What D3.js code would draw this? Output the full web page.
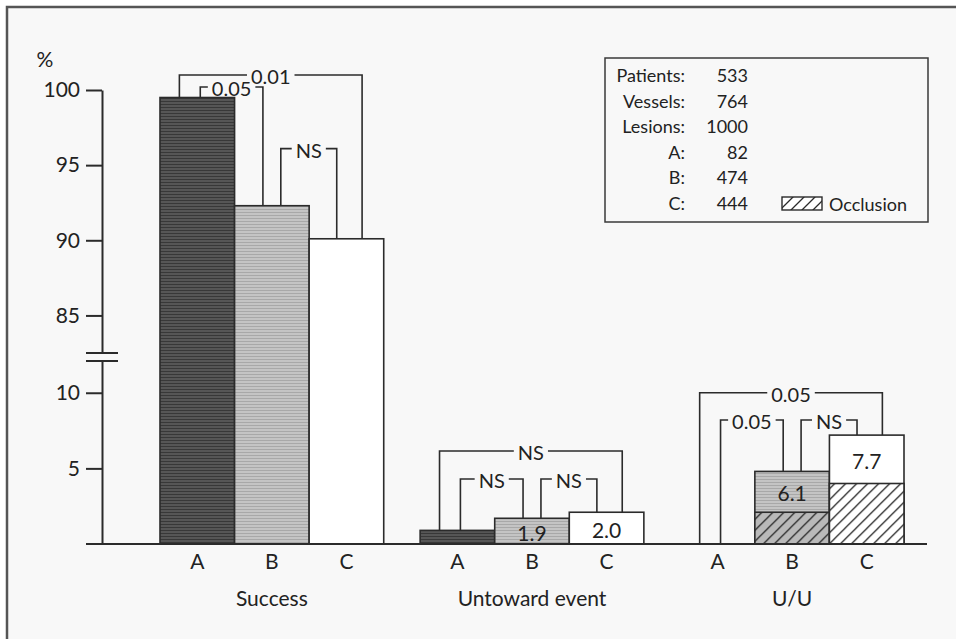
<!DOCTYPE html>
<html lang="en">
<head>
<meta charset="utf-8">
<title>Success, untoward event and U/U by lesion type</title>
<style type="text/css">
body { margin: 0; background: #fff; }
text { font-family: Lato, "Open Sans", sans-serif; fill: #222; }
.tick text { font-size: 21px; }
.ink { stroke: #2b2b2b; fill: none; }
</style>
<script type="text/javascript" src="https://cdn.jsdelivr.net/npm/d3@7"></script>
</head>
<body>
<script type="text/javascript">
var w = 956;
var h = 639;

// data
var groups = ["Success", "Untoward event", "U/U"];
var cats = ["A", "B", "C"];
var success = [99.5, 92.3, 90.1];
var untoward = [0.9, 1.7, 2.1];
var untowardText = ["", "1.9", "2.0"];
var uu = [0, 4.8, 7.2];
var uuOcclusion = [0, 2.1, 4.0];
var uuText = ["", "6.1", "7.7"];
var highTicks = [85, 90, 95, 100];
var lowTicks = [5, 10];

// p-value brackets: bar pair, label, height on the group's scale
var successBrackets = [[0, 2, "0.01", 101.0], [0, 1, "0.05", 100.2], [1, 2, "NS", 96.1]];
var untowardBrackets = [[0, 2, "NS", 6.15], [0, 1, "NS", 4.3], [1, 2, "NS", 4.3]];
var uuBrackets = [[0, 2, "0.05", 10.0], [0, 1, "0.05", 8.2], [1, 2, "NS", 8.2]];

var legendLabels = ["Patients:", "Vessels:", "Lesions:", "A:", "B:", "C:"];
var legendCounts = [533, 764, 1000, 82, 474, 444];

var bg = "#f8f8f8";

var svg = d3.select("body")
            .append("svg")
            .attr("width", w)
            .attr("height", h);

// scanned page background + frame
svg.append("rect").attr("x", 7).attr("y", 7).attr("width", w - 7).attr("height", h - 7).attr("fill", bg);
svg.append("path").attr("d", "M7," + h + "V7H" + w)
   .attr("stroke", "#555").attr("stroke-width", 2.5).attr("fill", "none");

var defs = svg.append("defs");

function stripes(id, base, line) {
  var p = defs.append("pattern").attr("id", id)
              .attr("patternUnits", "userSpaceOnUse")
              .attr("width", 4).attr("height", 3);
  p.append("rect").attr("width", 4).attr("height", 3).attr("fill", base);
  p.append("rect").attr("y", 2).attr("width", 4).attr("height", 1).attr("fill", line);
}
stripes("fillA", "#565656", "#383838");
stripes("fillB", "#c4c4c4", "#a8a8a8");

function hatch(id, base) {
  var p = defs.append("pattern").attr("id", id)
              .attr("patternUnits", "userSpaceOnUse")
              .attr("width", 11).attr("height", 11);
  p.append("rect").attr("width", 11).attr("height", 11).attr("fill", base);
  p.append("path").attr("d", "M0,11L11,0M-3,3L3,-3M8,14L14,8")
   .attr("stroke", "#2b2b2b").attr("stroke-width", 1.3);
}
hatch("hatchW", "#fff");
hatch("hatchG", "#b9b9b9");

var fills = ["url(#fillA)", "url(#fillB)", "#fff"];

// broken y axis: two linear pieces
var base = 544;
var yLow = d3.scaleLinear().domain([0, 12.1]).range([base, 361]);
var yHigh = d3.scaleLinear().domain([82.5, 100]).range([353, 90]);
var axisX = 102;

var x = d3.scaleBand().domain(groups).range([160, 904]).paddingInner(0.14);
var xi = d3.scaleBand().domain(cats).range([0, x.bandwidth()]);

svg.append("g").attr("transform", "translate(" + axisX + ",0)")
   .call(d3.axisLeft(yHigh).tickValues(highTicks).tickSize(16).tickSizeOuter(0).tickPadding(6));
svg.append("g").attr("transform", "translate(" + axisX + ",0)")
   .call(d3.axisLeft(yLow).tickValues(lowTicks).tickSize(16).tickSizeOuter(0).tickPadding(6));
svg.selectAll(".domain, .tick line").attr("stroke", "#2b2b2b").attr("stroke-width", 2);
svg.selectAll(".tick text").attr("fill", "#222").attr("font-family", "Lato, sans-serif");

[yHigh.range()[0], yLow.range()[1]].forEach(function(yy) {
  svg.append("line").attr("x1", axisX - 16).attr("x2", axisX + 16)
     .attr("y1", yy).attr("y2", yy)
     .attr("stroke", "#2b2b2b").attr("stroke-width", 2);
});

svg.append("text").attr("x", 45).attr("y", 58)
   .attr("text-anchor", "middle").attr("dominant-baseline", "central")
   .attr("font-size", 21).text("%");

// one panel per outcome
var panels = [
  { name: groups[0], vals: success, occ: null, text: null, y: yHigh, brackets: successBrackets },
  { name: groups[1], vals: untoward, occ: null, text: untowardText, y: yLow, brackets: untowardBrackets },
  { name: groups[2], vals: uu, occ: uuOcclusion, text: uuText, y: yLow, brackets: uuBrackets }
];

var legFrac = { "0-2": [0.26, 0.71], "0-1": [0.54, 0.38], "1-2": [0.62, 0.37] };

panels.forEach(function(pn) {
  var g = svg.append("g").attr("transform", "translate(" + x(pn.name) + ",0)");
  var bw = xi.bandwidth();

  cats.forEach(function(c, i) {
    if (pn.vals[i] <= 0) return;
    var top = pn.y(pn.vals[i]);
    g.append("rect").attr("x", xi(c)).attr("y", top)
     .attr("width", bw).attr("height", base - top)
     .attr("fill", fills[i]).attr("stroke", "#2b2b2b").attr("stroke-width", 1.6);
    var mid = base;
    if (pn.occ && pn.occ[i] > 0) {
      var ot = pn.y(pn.occ[i]);
      g.append("rect").attr("x", xi(c)).attr("y", ot)
       .attr("width", bw).attr("height", base - ot)
       .attr("fill", i == 2 ? "url(#hatchW)" : "url(#hatchG)")
       .attr("stroke", "#2b2b2b").attr("stroke-width", 1.6);
      mid = ot;
    }
    if (pn.text && pn.text[i]) {
      g.append("text").attr("x", xi(c) + bw / 2).attr("y", (top + mid) / 2 + 1)
       .attr("text-anchor", "middle").attr("dominant-baseline", "central")
       .attr("font-size", 21).text(pn.text[i]);
    }
  });

  // brackets
  pn.brackets.forEach(function(b) {
    var fr = legFrac[b[0] + "-" + b[1]];
    var x1 = xi(cats[b[0]]) + bw * fr[0];
    var x2 = xi(cats[b[1]]) + bw * fr[1];
    var yb = pn.y(b[3]);
    var y1 = pn.vals[b[0]] > 0 ? pn.y(pn.vals[b[0]]) : base;
    var y2 = pn.vals[b[1]] > 0 ? pn.y(pn.vals[b[1]]) : base;
    g.append("path").attr("class", "ink").attr("stroke-width", 1.6)
     .attr("d", "M" + x1 + "," + y1 + "V" + yb + "H" + x2 + "V" + y2);
    var t = g.append("text").attr("x", (x1 + x2) / 2).attr("y", yb + 1)
             .attr("text-anchor", "middle").attr("dominant-baseline", "central")
             .attr("font-size", 20).text(b[2]);
    var bb = t.node().getBBox();
    g.insert("rect", "text:last-of-type")
     .attr("x", bb.x - 4).attr("y", yb - 3).attr("width", bb.width + 8).attr("height", 6)
     .attr("fill", bg);
    t.raise();
  });

  cats.forEach(function(c) {
    g.append("text").attr("x", xi(c) + bw / 2).attr("y", 569)
     .attr("text-anchor", "middle").attr("font-size", 21).text(c);
  });
  g.append("text").attr("x", bw * 1.5).attr("y", 606)
   .attr("text-anchor", "middle").attr("font-size", 21).text(pn.name);
});

// baseline
svg.append("line").attr("x1", axisX - 16).attr("x2", 927)
   .attr("y1", base).attr("y2", base)
   .attr("stroke", "#2b2b2b").attr("stroke-width", 2.2);

// legend box
var lg = svg.append("g");
lg.append("rect").attr("x", 605).attr("y", 58).attr("width", 323).attr("height", 164)
  .attr("fill", bg).attr("stroke", "#3a3a3a").attr("stroke-width", 1.5);
legendLabels.forEach(function(l, i) {
  var yy = 75 + i * 25.6;
  lg.append("text").attr("x", 685).attr("y", yy).attr("text-anchor", "end")
    .attr("dominant-baseline", "central").attr("font-size", 18).text(l);
  lg.append("text").attr("x", 748).attr("y", yy).attr("text-anchor", "end")
    .attr("dominant-baseline", "central").attr("font-size", 18).text(legendCounts[i]);
});
lg.append("rect").attr("x", 782).attr("y", 197).attr("width", 40).attr("height", 13)
  .attr("fill", "url(#hatchW)").attr("stroke", "#2b2b2b").attr("stroke-width", 1.4);
lg.append("text").attr("x", 829).attr("y", 204).attr("dominant-baseline", "central")
  .attr("font-size", 18).text("Occlusion");
</script>
</body>
</html>
